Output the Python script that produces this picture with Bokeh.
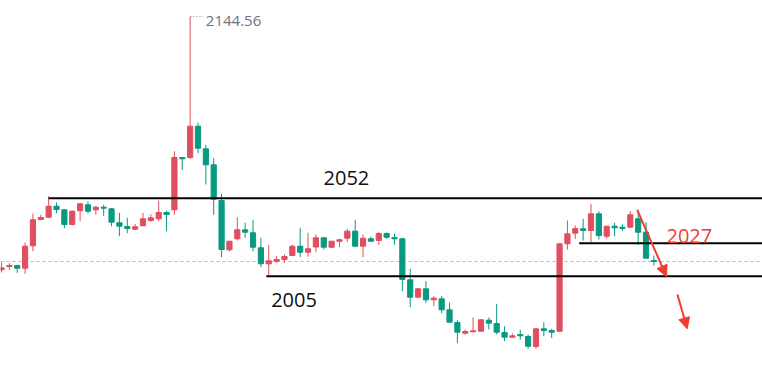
from bokeh.plotting import figure
from bokeh.models import ColumnDataSource, Range1d, Arrow, NormalHead
from bokeh.core.properties import value
from bokeh.embed import file_html
from bokeh.resources import INLINE

# ---- data (price values) ----
opens = [2010.31, 2012.06, 2012.59, 2011.16, 2023.03, 2036.97, 2038.19, 2044.02, 2042.11, 2034.32,
         2041.58, 2044.76, 2042.11, 2043.49, 2042.64, 2035.22, 2033.26, 2031.83, 2033.63, 2036.44,
         2037.34, 2040.68, 2042.11, 2069.83, 2069.83, 2086.42, 2074.44, 2065.96, 2047.04, 2020.91,
         2026.74, 2031.51, 2029.92, 2021.97, 2013.49, 2014.87, 2015.77, 2017.89, 2022.82, 2019.64,
         2022.39, 2027.27, 2022.29, 2025.47, 2027.06, 2030.77, 2022.82, 2026.74, 2025.84, 2029.55,
         2027.43, 2026.74, 2005.01, 1995.79, 2000.24, 1994.41, 1994.94, 1989.11, 1982.38, 1976.71,
         1977.45, 1977.77, 1983.60, 1981.85, 1977.08, 1974.59, 1976.02, 1974.96, 1969.66, 1979.04,
         1978.14, 1977.77, 2024.09, 2029.71, 2032.04, 2031.14, 2039.99, 2028.12, 2033.42, 2032.89,
         2032.89, 2037.34, 2030.24, 2015.24]
highs = [2014.18, 2013.81, 2012.96, 2024.78, 2040.15, 2039.46, 2049.32, 2045.98, 2042.53, 2041.74,
         2045.45, 2046.51, 2044.23, 2044.76, 2042.96, 2040.52, 2037.87, 2034.69, 2040.52, 2039.78,
         2047.04, 2041.74, 2073.17, 2069.83, 2144.56, 2088.38, 2076.56, 2069.46, 2050.59, 2025.47,
         2038.19, 2035.22, 2036.81, 2027.27, 2023.56, 2017.52, 2018.42, 2023.56, 2032.57, 2029.92,
         2029.02, 2027.27, 2025.47, 2026.74, 2032.04, 2036.81, 2029.02, 2027.96, 2030.24, 2030.08,
         2029.39, 2027.27, 2010.84, 2000.77, 2004.27, 1996.32, 1996.53, 1992.98, 1983.60, 1978.67,
         1985.03, 1984.23, 1985.03, 1992.29, 1980.42, 1976.55, 1978.51, 1976.02, 1979.20, 1982.54,
         1979.04, 2024.09, 2036.44, 2033.79, 2037.34, 2045.29, 2041.37, 2033.42, 2035.22, 2034.48,
         2041.37, 2042.11, 2035.54, 2017.89]
lows = [2008.88, 2010.31, 2008.72, 2008.19, 2020.17, 2036.70, 2037.66, 2040.31, 2032.36, 2033.95,
        2036.07, 2040.15, 2039.46, 2038.93, 2033.42, 2028.12, 2029.71, 2031.51, 2033.53, 2035.75,
        2036.07, 2030.77, 2039.46, 2063.31, 2069.14, 2072.11, 2055.52, 2039.46, 2016.99, 2020.01,
        2025.84, 2027.27, 2020.01, 2011.69, 2007.29, 2014.02, 2014.02, 2017.52, 2016.99, 2017.20,
        2019.64, 2021.07, 2021.97, 2022.29, 2025.15, 2022.29, 2016.99, 2025.15, 2023.56, 2026.74,
        2023.56, 1998.97, 1990.49, 1995.47, 1992.61, 1991.02, 1987.31, 1982.54, 1971.41, 1976.02,
        1977.35, 1977.61, 1978.67, 1976.02, 1972.47, 1974.48, 1973.21, 1968.44, 1968.44, 1975.12,
        1974.16, 1977.61, 2021.07, 2026.74, 2025.84, 2024.94, 2026.37, 2026.90, 2028.12, 2030.98,
        2032.78, 2023.56, 2016.46, 2012.59]
closes = [2011.37, 2012.59, 2011.16, 2022.82, 2036.81, 2038.03, 2044.02, 2042.27, 2034.32, 2041.37,
          2045.29, 2041.37, 2043.49, 2042.96, 2035.54, 2033.42, 2032.20, 2033.10, 2037.34, 2037.87,
          2040.68, 2039.62, 2069.83, 2069.14, 2086.42, 2074.76, 2065.96, 2047.73, 2021.07, 2025.47,
          2031.51, 2030.24, 2022.29, 2013.49, 2015.08, 2015.77, 2017.36, 2022.82, 2019.64, 2021.44,
          2027.27, 2022.29, 2025.47, 2026.21, 2030.77, 2022.82, 2027.06, 2025.47, 2029.55, 2027.59,
          2026.74, 2005.17, 1995.79, 2000.24, 1994.41, 1995.26, 1989.11, 1982.54, 1977.24, 1977.61,
          1977.98, 1983.81, 1982.01, 1977.24, 1974.59, 1975.33, 1975.33, 1969.82, 1979.04, 1978.14,
          1977.24, 2024.09, 2029.39, 2032.20, 2031.14, 2039.99, 2028.49, 2033.42, 2032.57, 2032.20,
          2039.46, 2030.24, 2016.46, 2014.71]

# horizontal annotation lines: start index, level
level_starts = [6, 73.5, 33.7]
level_values = [2048.26, 2024.41, 2006.92]
level_labels = ["2052", "2027", "2005"]
label_x = [40.97, 84.6, 34.31]
label_y = [2059.0, 2028.49, 1994.3]
label_colors = ["#111111", "#f33a33", "#111111"]

last_price = 2014.71
max_high_label = "2144.56"

# arrows: (x_start, y_start, x_end, y_end)
arrow_x0 = [80.88, 86.0]
arrow_y0 = [2042.11, 1997.22]
arrow_x1 = [84.6, 87.24]
arrow_y1 = [2006.76, 1979.04]

UP = "#e04f5f"
DOWN = "#089981"

idx = list(range(len(opens)))
colors = [UP if c >= o else DOWN for o, c in zip(opens, closes)]
tops = [max(o, c) for o, c in zip(opens, closes)]
bots = [min(o, c) for o, c in zip(opens, closes)]

src = ColumnDataSource(dict(x=idx, o=opens, h=highs, l=lows, c=closes,
                            top=tops, bot=bots, color=colors))

x0 = -0.127
p = figure(width=762, height=377, output_backend="svg", toolbar_location=None,
           x_axis_location=None, y_axis_location=None, min_border=0,
           x_range=Range1d(x0, x0 + 762 / 7.86),
           y_range=Range1d(2153.04 - 0.53 * 377, 2153.04))
p.xgrid.visible = False
p.ygrid.visible = False
p.outline_line_color = None
p.background_fill_color = "white"
p.border_fill_color = "white"

# last price dashed line
p.segment(x0=[x0], y0=[last_price], x1=[x0 + 100], y1=[last_price],
          line_color="#5fbfab", line_alpha=0.75, line_width=1, line_dash="3 3")

# candles
p.segment(x0="x", y0="l", x1="x", y1="h", source=src, line_color="color", line_width=1)
p.vbar(x="x", width=0.66, top="top", bottom="bot", source=src,
       fill_color="color", line_color="color", line_width=1)

# horizontal levels
p.segment(x0=level_starts, y0=level_values, x1=[x0 + 100] * 3, y1=level_values,
          line_color="black", line_width=2)

# labels
lsrc = ColumnDataSource(dict(x=label_x, y=label_y, t=level_labels, c=label_colors))
p.text(x="x", y="y", text="t", source=lsrc, text_color="c",
       text_font=value("Open Sans"), text_font_size="20px",
       text_baseline="middle", text_align="left")

# max high marker
hi_i = highs.index(max(highs))
p.segment(x0=[hi_i + 0.05], y0=[max(highs)], x1=[hi_i + 1.65], y1=[max(highs)],
          line_color="#8a8d96", line_width=1, line_dash="1 2")
p.text(x=[hi_i + 2.0], y=[2142.44], text=[max_high_label], text_color="#6f727d",
       text_font=value("Open Sans"), text_font_size="15px",
       text_baseline="middle", text_align="left")

# arrows
for xs, ys, xe, ye in zip(arrow_x0, arrow_y0, arrow_x1, arrow_y1):
    p.add_layout(Arrow(end=NormalHead(size=11, fill_color="#f33a33", line_color="#f33a33"),
                       x_start=xs, y_start=ys, x_end=xe, y_end=ye,
                       line_color="#f33a33", line_width=2))

open("out.html", "w").write(file_html(p, INLINE))
